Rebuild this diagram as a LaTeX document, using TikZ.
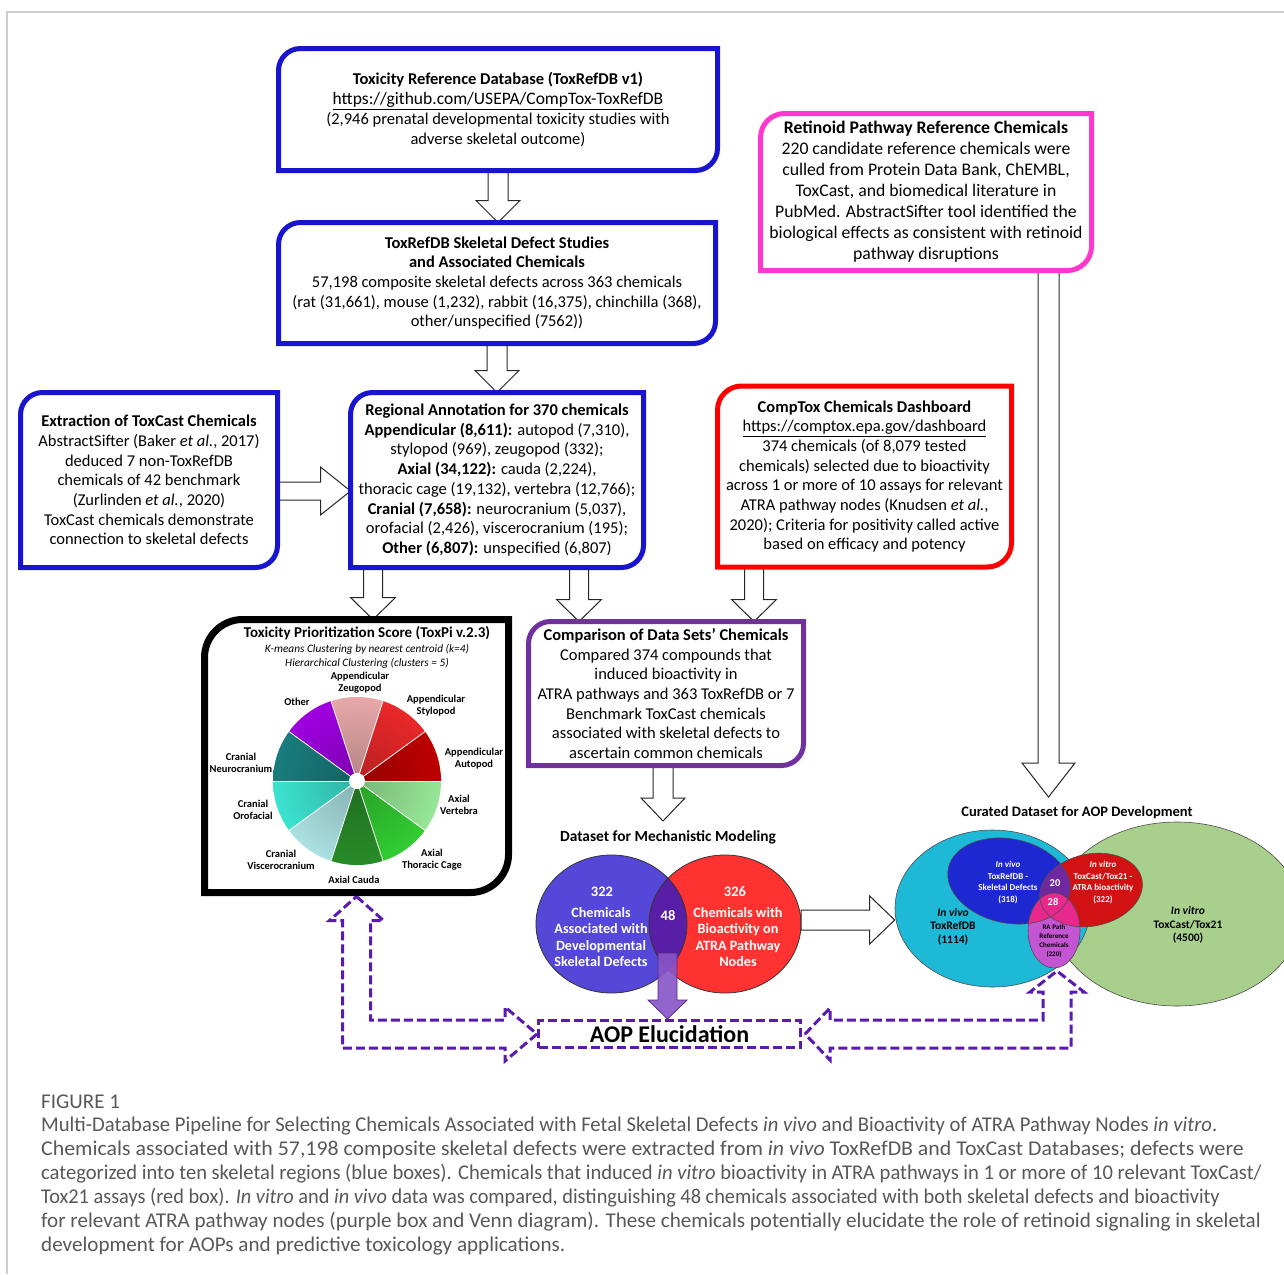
\documentclass[tikz,border=0pt]{standalone}
\usepackage{fontspec}
\usepackage{graphicx}
\setmainfont{Carlito}
\usetikzlibrary{calc,shapes.geometric}
\definecolor{bxblue}{RGB}{25,20,205}
\definecolor{bxpink}{RGB}{255,55,205}
\definecolor{bxred}{RGB}{255,0,0}
\definecolor{bxpurple}{RGB}{112,48,160}
\definecolor{aopc}{RGB}{90,25,175}
\definecolor{capgray}{RGB}{88,88,88}
\definecolor{frameg}{RGB}{205,205,205}
\definecolor{pAuto}{RGB}{190,0,0}
\definecolor{pStylo}{RGB}{235,40,42}
\definecolor{pZeugo}{RGB}{232,168,168}
\definecolor{pOther}{RGB}{160,0,225}
\definecolor{pNeuro}{RGB}{25,125,125}
\definecolor{pOro}{RGB}{60,228,208}
\definecolor{pVisc}{RGB}{172,226,226}
\definecolor{pCauda}{RGB}{40,140,40}
\definecolor{pThor}{RGB}{50,205,50}
\definecolor{pVert}{RGB}{152,232,152}
\definecolor{mvBlue}{RGB}{85,72,216}
\definecolor{mvRed}{RGB}{255,50,50}
\definecolor{mvOver}{RGB}{88,30,165}
\definecolor{vGreen}{RGB}{168,208,140}
\definecolor{vCyan}{RGB}{30,185,215}
\definecolor{vBlue}{RGB}{30,40,210}
\definecolor{vRed}{RGB}{210,18,18}
\definecolor{vPurp}{RGB}{112,40,160}
\definecolor{vMag}{RGB}{195,85,210}
\definecolor{vPink}{RGB}{232,40,140}
\definecolor{purArrow}{RGB}{135,85,200}

\newcommand{\rdframe}[4]{%
  \draw[draw=#2, line width=#3, line join=miter]
    let \p1=(#1.north west), \p2=(#1.south east) in
    (\x1,\y2) -- (\x1,\y1-#4) .. controls (\x1,\y1-0.45*#4) and (\x1+0.45*#4,\y1) .. (\x1+#4,\y1)
    -- (\x2,\y1) -- (\x2,\y2+#4) .. controls (\x2,\y2+0.45*#4) and (\x2-0.45*#4,\y2) .. (\x2-#4,\y2) -- cycle;}
\newcommand{\downblock}[6]{%
  \draw[#1] let \p1=#2, \p2=#3 in
   (\x1-#4,\y1) -- (\x1-#4,\y2+#6) -- (\x1-#5,\y2+#6) -- (\x1,\y2) -- (\x1+#5,\y2+#6) -- (\x1+#4,\y2+#6) -- (\x1+#4,\y1) -- cycle;}
\newcommand{\rightblock}[6]{%
  \draw[#1] let \p1=#2, \p2=#3 in
   (\x1,\y1+#4) -- (\x2-#6,\y1+#4) -- (\x2-#6,\y1+#5) -- (\x2,\y1) -- (\x2-#6,\y1-#5) -- (\x2-#6,\y1-#4) -- (\x1,\y1-#4) -- cycle;}

\begin{document}
\begin{tikzpicture}[x=1pt,y=-1pt,
  hollow/.style={draw=black!85, line width=1pt, fill=white, line join=miter},
  purst/.style={draw=bxpurple!80!black, line width=0.8pt, fill=purArrow, fill opacity=0.9, line join=miter},
  boxn/.style={inner sep=0pt, outer sep=0pt, align=center, font=\fontsize{16.5}{19.7}\selectfont},
  pl/.style={align=center, font=\bfseries\fontsize{10.5}{12.2}\selectfont, inner sep=0pt},
  mvt/.style={text=white, font=\bfseries\fontsize{14.2}{16.3}\selectfont, align=center, inner sep=0pt},
  svw/.style={text=white, font=\bfseries\fontsize{9}{11.6}\selectfont, align=center, inner sep=0pt},
  svk/.style={text=black, font=\bfseries\fontsize{11.5}{13.5}\selectfont, align=center, inner sep=0pt},
  vline/.style={draw=black!70, line width=0.6pt},
  aopdash/.style={draw=aopc, line width=3pt, dash pattern=on 9pt off 4pt, line join=miter},
  capn/.style={text=capgray, font=\fontsize{21}{24}\selectfont, inner sep=0pt, anchor=west}]

\fill[white] (0,0) rectangle (1284,1274);
\useasboundingbox (0,0) rectangle (1284,1274);
\draw[frameg, line width=1.2pt] (1284,12) -- (7,12) -- (7,1274);

% ---------- boxes (text) ----------
\node[boxn, minimum width=439pt, minimum height=122pt] (b1) at (498,109.5) {%
\textbf{Toxicity Reference Database (ToxRefDB v1)}\\
\underline{\fontsize{17.5}{19.7}\selectfont https://github.com/USEPA/CompTox-ToxRefDB}\\
(2,946 prenatal developmental toxicity studies with\\
adverse skeletal outcome)};
\node[boxn, minimum width=437pt, minimum height=121pt] (b2) at (497,283) {%
\textbf{ToxRefDB Skeletal Defect Studies}\\
\textbf{and Associated Chemicals}\\
57,198 composite skeletal defects across 363 chemicals\\
(rat (31,661), mouse (1,232), rabbit (16,375), chinchilla (368),\\
other/unspecified (7562))};
\node[boxn, minimum width=257pt, minimum height=175pt] (b3) at (149,480) {%
\textbf{Extraction of ToxCast Chemicals}\\
AbstractSifter (Baker \textit{et al.}, 2017)\\
deduced 7 non-ToxRefDB\\
chemicals of 42 benchmark\\
(Zurlinden \textit{et al.}, 2020)\\
ToxCast chemicals demonstrate\\
connection to skeletal defects};
\node[boxn, minimum width=293pt, minimum height=175pt] (b4) at (497,480) {%
\textbf{Regional Annotation for 370 chemicals}\\
\textbf{Appendicular (8,611):} autopod (7,310),\\
stylopod (969), zeugopod (332);\\
\textbf{Axial (34,122):} cauda (2,224),\\
thoracic cage (19,132), vertebra (12,766);\\
\textbf{Cranial (7,658):} neurocranium (5,037),\\
orofacial (2,426), viscerocranium (195);\\
\textbf{Other (6,807):} unspecified (6,807)};
\node[boxn, minimum width=331pt, minimum height=157pt, font=\fontsize{17.7}{21}\selectfont] (b5) at (926,192) {%
\textbf{Retinoid Pathway Reference Chemicals}\\
220 candidate reference chemicals were\\
culled from Protein Data Bank, ChEMBL,\\
ToxCast, and biomedical literature in\\
PubMed. AbstractSifter tool identified the\\
biological effects as consistent with retinoid\\
pathway disruptions};
\node[boxn, minimum width=294pt, minimum height=181pt] (b6) at (864.5,476.5) {%
\textbf{CompTox Chemicals Dashboard}\\
\underline{https://comptox.epa.gov/dashboard}\\
374 chemicals (of 8,079 tested\\
chemicals) selected due to bioactivity\\
across 1 or more of 10 assays for relevant\\
ATRA pathway nodes (Knudsen \textit{et al.},\\
2020); Criteria for positivity called active\\
based on efficacy and potency};
\node[boxn, minimum width=304pt, minimum height=273pt] (b7) at (356.5,756) {};
\node[boxn, minimum width=275pt, minimum height=144pt] (b8) at (666,693.5) {%
\textbf{Comparison of Data Sets’ Chemicals}\\
Compared 374 compounds that\\
induced bioactivity in\\
ATRA pathways and 363 ToxRefDB or 7\\
Benchmark ToxCast chemicals\\
associated with skeletal defects to\\
ascertain common chemicals};

% ---------- hollow arrows ----------
\coordinate (a4l) at (373,0);
\coordinate (a4r) at (579,0);
\coordinate (a6) at (754,0);
\coordinate (a34) at (0,491);
\coordinate (ltip) at (1048.5,797);
\coordinate (dtip) at (663,821);
\downblock{hollow}{(b1.south)}{(b2.north)}{10pt}{22pt}{22pt}
\downblock{hollow}{(b2.south)}{(b4.north)}{10pt}{22pt}{22pt}
\downblock{hollow}{(a4l |- b4.south)}{(a4l |- b7.north)}{9.5pt}{22.5pt}{22pt}
\downblock{hollow}{(a4r |- b4.south)}{(a4r |- b8.north)}{9.5pt}{22.5pt}{22pt}
\downblock{hollow}{(a6 |- b6.south)}{(a6 |- b8.north)}{9.5pt}{22.5pt}{22pt}
\rightblock{hollow}{(b3.east |- a34)}{(b4.west |- a34)}{9pt}{24pt}{30pt}
\downblock{hollow}{(ltip |- b5.south)}{(ltip)}{10.5pt}{26.5pt}{34pt}
\downblock{hollow}{(dtip |- b8.south)}{(dtip)}{10pt}{22pt}{23pt}

% ---------- frames ----------
\rdframe{b1}{bxblue}{5pt}{22pt}
\rdframe{b2}{bxblue}{5pt}{22pt}
\rdframe{b3}{bxblue}{5pt}{22pt}
\rdframe{b4}{bxblue}{5pt}{22pt}
\rdframe{b5}{bxpink}{5pt}{24pt}
\rdframe{b6}{bxred}{5pt}{24pt}
\rdframe{b7}{black}{7pt}{38pt}
\rdframe{b8}{bxpurple}{5pt}{22pt}

% ---------- ToxPi ----------
\node[font=\bfseries\fontsize{15}{16}\selectfont, inner sep=0pt] (tpt) at (367,633) {Toxicity Prioritization Score (ToxPi v.2.3)};
\node[font=\itshape\fontsize{11.3}{14}\selectfont, inner sep=0pt] (tps1) at (367,649) {K-means Clustering by nearest centroid (k=4)};
\node[font=\itshape\fontsize{11.3}{14}\selectfont, inner sep=0pt] (tps2) at (367,663) {Hierarchical Clustering (clusters = 5)};
\coordinate (pc) at (357,781);
\foreach \a/\c in {0/pAuto,36/pStylo,72/pZeugo,108/pOther,144/pNeuro,180/pOro,216/pVisc,252/pCauda,288/pThor,324/pVert}{
  \begin{scope}
    \clip (pc) -- ++(\a:84pt) arc[start angle=\a, end angle=\a+36, radius=84pt] -- cycle;
    \shade[inner color=\c!78!black, outer color=\c] (pc) circle[radius=86pt];
  \end{scope}
}
\foreach \a in {0,36,...,324}{\draw[white, line width=0.8pt] (pc) -- ++(\a:84pt);}
\fill[white] (pc) circle[radius=8pt];
\node[pl] (lz) at (360,683) {Appendicular\\Zeugopod};
\node[pl] (lo) at (297,702) {Other};
\node[pl] (ls) at (436,706) {Appendicular\\Stylopod};
\node[pl] (la) at (474,759) {Appendicular\\Autopod};
\node[pl] (ln) at (241,763) {Cranial\\Neurocranium};
\node[pl] (lv) at (459,805) {Axial\\Vertebra};
\node[pl] (lof) at (253,810) {Cranial\\Orofacial};
\node[pl] (lvi) at (281,860) {Cranial\\Viscerocranium};
\node[pl] (lt) at (432,860) {Axial\\Thoracic Cage};
\node[pl] (lc) at (354,880) {Axial Cauda};

% ---------- Mechanistic Venn ----------
\node[font=\bfseries\fontsize{15.4}{17}\selectfont, inner sep=0pt] (mvt) at (668,837) {Dataset for Mechanistic Modeling};
\node[ellipse, fill=mvBlue, minimum width=151pt, minimum height=138pt, inner sep=0pt] (mvl) at (611.5,924) {};
\node[ellipse, fill=mvRed, minimum width=152pt, minimum height=138pt, inner sep=0pt] (mvr) at (725,924) {};
\begin{scope}
  \clip (611.5,924) ellipse[x radius=75.5pt, y radius=69pt];
  \fill[mvOver] (725,924) ellipse[x radius=76pt, y radius=69pt];
\end{scope}
\draw[black!80, line width=0.8pt] (611.5,924) ellipse[x radius=75.5pt, y radius=69pt] (725,924) ellipse[x radius=76pt, y radius=69pt];
\node[mvt, font=\bfseries\fontsize{14.5}{16}\selectfont] (n322) at (602,892) {322};
\node[mvt] (t322) at (601,937) {Chemicals\\Associated with\\Developmental\\Skeletal Defects};
\node[mvt, font=\bfseries\fontsize{14.5}{16}\selectfont] (n48) at (668,916) {48};
\node[mvt, font=\bfseries\fontsize{14.5}{16}\selectfont] (n326) at (735,892) {326};
\node[mvt] (t326) at (738,937) {Chemicals with\\Bioactivity on\\ATRA Pathway\\Nodes};

% ---------- Curated Venn ----------
\node[font=\bfseries\fontsize{14.5}{17}\selectfont, inner sep=0pt] (cdt) at (1077,813) {Curated Dataset for AOP Development};
\fill[vGreen] (1177,914) ellipse[x radius=124pt, y radius=92pt];
\draw[vline] (1177,914) ellipse[x radius=124pt, y radius=92pt];
\node[ellipse, fill=vCyan, draw=black!70, line width=0.6pt, minimum width=195pt, minimum height=157pt, inner sep=0pt] (vcy) at (992.5,908.5) {};
\fill[vBlue, rotate around={-12:(1009,881)}] (1009,881) ellipse[x radius=62pt, y radius=42pt];
\fill[vRed, rotate around={12:(1091,890)}] (1091,890) ellipse[x radius=52pt, y radius=36pt];
\begin{scope}
  \clip[rotate around={-12:(1009,881)}] (1009,881) ellipse[x radius=62pt, y radius=42pt];
  \fill[vPurp, rotate around={12:(1091,890)}] (1091,890) ellipse[x radius=52pt, y radius=36pt];
\end{scope}
\fill[vMag] (1054,930.5) ellipse[x radius=26pt, y radius=37.5pt];
\begin{scope}
  \clip (1054,930.5) ellipse[x radius=26pt, y radius=37.5pt];
  \fill[vPink, rotate around={-12:(1009,881)}] (1009,881) ellipse[x radius=62pt, y radius=42pt];
  \fill[vPink, rotate around={12:(1091,890)}] (1091,890) ellipse[x radius=52pt, y radius=36pt];
\end{scope}
\draw[vline, rotate around={-12:(1009,881)}] (1009,881) ellipse[x radius=62pt, y radius=42pt];
\draw[vline, rotate around={12:(1091,890)}] (1091,890) ellipse[x radius=52pt, y radius=36pt];
\draw[vline] (1054,930.5) ellipse[x radius=26pt, y radius=37.5pt];
\node[svw] (tsk) at (1008,882.5) {\textit{In vivo}\\ToxRefDB -\\Skeletal Defects\\(318)};
\node[svw] (tat) at (1103,882.5) {\textit{In vitro}\\ToxCast/Tox21 -\\ATRA bioactivity\\(322)};
\node[svw, font=\bfseries\fontsize{10.5}{12}\selectfont] (n20) at (1055,883) {20};
\node[svw, font=\bfseries\fontsize{10.5}{12}\selectfont] (n28) at (1053,902) {28};
\node[svk, font=\bfseries\fontsize{7}{8.8}\selectfont] (tra) at (1054,941) {RA Path\\Reference\\Chemicals\\(220)};
\node[svk] (tiv) at (953,926.5) {\textit{In vivo}\\ToxRefDB\\(1114)};
\node[svk] (tit) at (1188,925) {\textit{In vitro}\\ToxCast/Tox21\\(4500)};
\coordinate (a92) at (0,920);
\rightblock{hollow}{(mvr.east |- a92)}{(vcy.west |- a92)}{10pt}{24pt}{25pt}

% ---------- AOP ----------
\node[aopdash, minimum width=262pt, minimum height=27pt, inner sep=0pt, font=\bfseries\fontsize{24}{24}\selectfont] (aop) at (669.5,1034) {AOP Elucidation};
\coordinate (p48) at (667.5,953);
\coordinate (rab) at (1057,971);
\downblock{purst}{(p48)}{(aop.north)}{9.5pt}{19.5pt}{19pt}
\draw[aopdash] let \p1=(b7.south), \p2=(aop.west) in
  (\x1,\y1-4pt) -- (\x1+27pt,\y1-28pt) -- (\x1+14pt,\y1-28pt) -- (\x1+14pt,\y2+14pt) -- (\x2-32pt,\y2+14pt)
  -- (\x2-32pt,\y2+27pt) -- (\x2,\y2) -- (\x2-32pt,\y2-27pt) -- (\x2-32pt,\y2-14pt) -- (\x1-14pt,\y2-14pt)
  -- (\x1-14pt,\y1-28pt) -- (\x1-27pt,\y1-28pt) -- cycle;
\draw[aopdash] let \p1=(aop.east), \p2=(rab) in
  (\x1+3pt,\y1) -- (\x1+28pt,\y1+26pt) -- (\x1+28pt,\y1+14pt) -- (\x2-14pt,\y1+14pt) -- (\x2-14pt,\y2-21pt)
  -- (\x2-27pt,\y2-21pt) -- (\x2,\y2) -- (\x2+27pt,\y2-21pt) -- (\x2+14pt,\y2-21pt) -- (\x2+14pt,\y1-14pt)
  -- (\x1+28pt,\y1-14pt) -- (\x1+28pt,\y1-26pt) -- cycle;

% ---------- caption ----------
\node[capn] (cap0) at (41,1102) {FIGURE 1};
\node[capn] (cap1) at (41,1126) {\scalebox{0.983}[1]{Multi-Database Pipeline for Selecting Chemicals Associated with Fetal Skeletal Defects \textit{in vivo} and Bioactivity of ATRA Pathway Nodes \textit{in vitro}.}};
\node[capn] (cap2) at (41,1150) {\scalebox{1.04}[1]{Chemicals associated with 57,198 composite skeletal defects were extracted from \textit{in vivo} ToxRefDB and ToxCast Databases; defects were}};
\node[capn] (cap3) at (41,1174) {\scalebox{0.979}[1]{categorized into ten skeletal regions (blue boxes). Chemicals that induced \textit{in vitro} bioactivity in ATRA pathways in 1 or more of 10 relevant ToxCast/}};
\node[capn] (cap4) at (41,1198) {\scalebox{0.968}[1]{Tox21 assays (red box). \textit{In vitro} and \textit{in vivo} data was compared, distinguishing 48 chemicals associated with both skeletal defects and bioactivity}};
\node[capn] (cap5) at (41,1222) {\scalebox{1.005}[1]{for relevant ATRA pathway nodes (purple box and Venn diagram). These chemicals potentially elucidate the role of retinoid signaling in skeletal}};
\node[capn] (cap6) at (41,1246) {\scalebox{1.005}[1]{development for AOPs and predictive toxicology applications.}};
\end{tikzpicture}
\end{document}
